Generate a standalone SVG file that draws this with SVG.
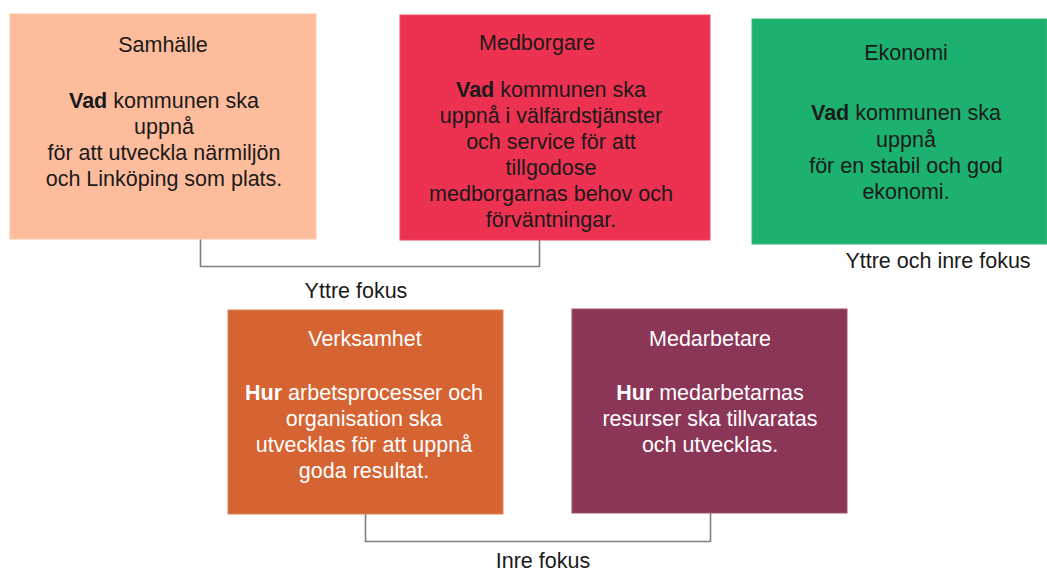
<svg xmlns="http://www.w3.org/2000/svg" width="1047" height="571" viewBox="0 0 1047 571">
<style>
text{font-family:"Liberation Sans",Arial,sans-serif;font-size:21.5px;text-anchor:middle;fill:#1a1a1a}
.w{fill:#ffffff}
.b{font-weight:bold}
.conn{fill:none;stroke:#808080;stroke-width:1.6}
.box{stroke-width:1}
</style>
<rect width="1047" height="571" fill="#ffffff"/>
<g id="connectors">
<polyline class="conn" points="200.5,239 200.5,266.5 539.5,266.5 539.5,240"/>
<polyline class="conn" points="365.5,514 365.5,541.5 710.5,541.5 710.5,513"/>
</g>
<g id="samhalle">
<rect class="box" x="10" y="14" width="306" height="225" fill="#FDBC9C" stroke="#FDC7AC"/>
<text x="163" y="52">Samhälle</text>
<text x="164" y="108"><tspan class="b">Vad</tspan> kommunen ska</text>
<text x="164" y="134">uppnå</text>
<text x="164" y="160">för att utveckla närmiljön</text>
<text x="164" y="186">och Linköping som plats.</text>
</g>
<g id="medborgare">
<rect class="box" x="400" y="15" width="310" height="225" fill="#EC3151" stroke="#EE4A65"/>
<text x="537" y="50">Medborgare</text>
<text x="551" y="97"><tspan class="b">Vad</tspan> kommunen ska</text>
<text x="551" y="123">uppnå i välfärdstjänster</text>
<text x="551" y="149">och service för att</text>
<text x="551" y="175">tillgodose</text>
<text x="551" y="201">medborgarnas behov och</text>
<text x="551" y="227">förväntningar.</text>
</g>
<g id="ekonomi">
<rect class="box" x="752" y="19" width="295" height="225" fill="#1CB16E" stroke="#36BA7F"/>
<text x="906" y="60">Ekonomi</text>
<text x="906" y="120"><tspan class="b">Vad</tspan> kommunen ska</text>
<text x="906" y="147">uppnå</text>
<text x="906" y="173">för en stabil och god</text>
<text x="906" y="199">ekonomi.</text>
</g>
<g id="label-yttre-inre">
<text x="938" y="268">Yttre och inre fokus</text>
</g>
<g id="label-yttre">
<text x="356" y="298">Yttre fokus</text>
</g>
<g id="verksamhet">
<rect class="box" x="228" y="310" width="275" height="204" fill="#D66332" stroke="#E0835B"/>
<text class="w" x="365" y="346">Verksamhet</text>
<text class="w" x="364" y="400"><tspan class="b">Hur</tspan> arbetsprocesser och</text>
<text class="w" x="364" y="426">organisation ska</text>
<text class="w" x="364" y="452">utvecklas för att uppnå</text>
<text class="w" x="364" y="478">goda resultat.</text>
</g>
<g id="medarbetare">
<rect class="box" x="572" y="309" width="275" height="204" fill="#8B3557" stroke="#A05573"/>
<text class="w" x="710" y="346">Medarbetare</text>
<text class="w" x="710" y="400"><tspan class="b">Hur</tspan> medarbetarnas</text>
<text class="w" x="710" y="426">resurser ska tillvaratas</text>
<text class="w" x="710" y="452">och utvecklas.</text>
</g>
<g id="label-inre">
<text x="543" y="568">Inre fokus</text>
</g>
</svg>
